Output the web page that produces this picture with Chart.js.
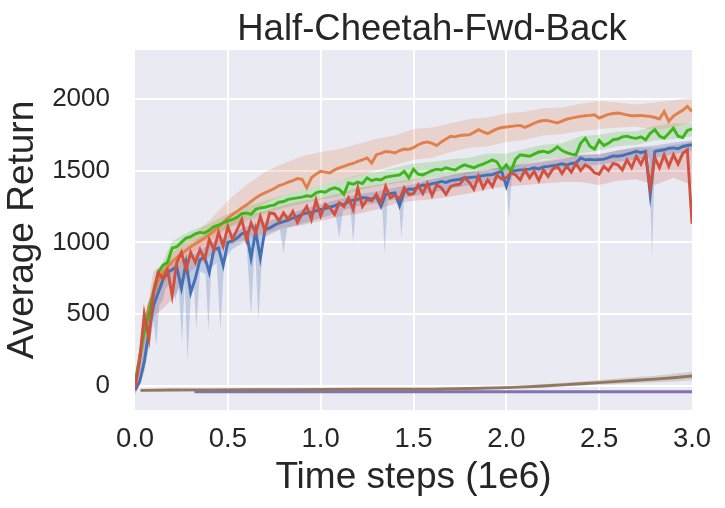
<!DOCTYPE html>
<html>
<head>
<meta charset="utf-8">
<script src="https://cdn.jsdelivr.net/npm/chart.js@4.4.0/dist/chart.umd.min.js"></script>
<style>
  html, body { margin: 0; padding: 0; background: #fff; }
  #chart { display: block; }
</style>
</head>
<body>
<canvas id="chart" width="725" height="508"></canvas>
<script>
// curves are logged every 0.025 (x 1e6 steps), bands every 0.1
const STEP = 0.025;
const BAND_STEP = 0.1;

const TITLE = "Half-Cheetah-Fwd-Back";
const xTicks = [0, 0.5, 1.0, 1.5, 2.0, 2.5, 3.0];
const yTicks = [0, 500, 1000, 1500, 2000];

const blueRet = [
  -30, 30, 170, 380, 560, 650, 740, 790, 810, 830,
  680, 860, 650, 750, 880, 900, 790, 950, 960, 840,
  1000, 1010, 1030, 1060, 1070, 890, 1080, 890, 1090, 1100,
  1120, 1135, 1145, 1155, 1170, 1180, 1195, 1205, 1210, 1220,
  1230, 1235, 1245, 1255, 1270, 1262, 1285, 1295, 1300, 1312,
  1310, 1300, 1320, 1250, 1335, 1340, 1345, 1255, 1355, 1372,
  1370, 1385, 1400, 1398, 1410, 1415, 1425, 1418, 1430, 1435,
  1440, 1450, 1452, 1455, 1458, 1465, 1470, 1472, 1485, 1495,
  1390, 1495, 1500, 1505, 1507, 1510, 1520, 1512, 1526, 1530,
  1535, 1540, 1548, 1538, 1550, 1553, 1588, 1575, 1578, 1575,
  1577, 1580, 1590, 1602, 1600, 1605, 1615, 1623, 1635, 1625,
  1634, 1333, 1634, 1640, 1645, 1655, 1658, 1652, 1668, 1675,
  1680
];

const orangeRet = [
  0, 200, 400, 560, 650, 730, 790, 830, 865, 895,
  920, 945, 970, 990, 1010, 1030, 1055, 1080, 1110, 1140,
  1170, 1195, 1215, 1240, 1260, 1285, 1310, 1330, 1345, 1360,
  1375, 1395, 1405, 1420, 1430, 1445, 1440, 1380, 1450, 1475,
  1495, 1490, 1484, 1505, 1519, 1530, 1542, 1550, 1565, 1575,
  1588, 1553, 1611, 1620, 1634, 1630, 1623, 1640, 1650, 1648,
  1660, 1680, 1693, 1700, 1690, 1674, 1700, 1720, 1739, 1735,
  1745, 1748, 1750, 1765, 1785, 1770, 1757, 1775, 1790, 1800,
  1804, 1808, 1812, 1815, 1801, 1815, 1830, 1842, 1850, 1848,
  1840, 1832, 1845, 1858, 1865, 1873, 1878, 1882, 1885, 1889,
  1866, 1880, 1892, 1898, 1901, 1895, 1888, 1882, 1882, 1885,
  1880, 1878, 1870, 1860, 1912, 1843, 1880, 1901, 1920, 1947,
  1912
];

const greenRet = [
  20, 200, 380, 500, 660, 790, 840, 860, 960, 970,
  1000, 1030, 1040, 1060, 1070, 1065, 1085, 1110, 1120, 1135,
  1150, 1160, 1175, 1200, 1205, 1195, 1230, 1240, 1245, 1255,
  1260, 1280, 1285, 1300, 1305, 1310, 1315, 1325, 1320, 1345,
  1355, 1350, 1370, 1380, 1370, 1335, 1415, 1405, 1420, 1410,
  1450, 1430, 1440, 1435, 1455, 1460, 1465, 1470, 1495, 1450,
  1510, 1475, 1470, 1485, 1500, 1510, 1505, 1520, 1510, 1505,
  1525, 1540, 1530, 1520, 1535, 1545, 1560, 1575, 1560, 1505,
  1540, 1495, 1580, 1610, 1605, 1600, 1615, 1630, 1635, 1625,
  1640, 1665, 1640, 1625, 1615, 1610, 1690, 1725, 1670, 1650,
  1710, 1675, 1690, 1715, 1720, 1735, 1740, 1730, 1725, 1735,
  1715, 1760, 1785, 1740, 1725, 1760, 1795, 1740, 1730, 1780,
  1790
];

const redRet = [
  -20, 180, 500, 330, 650, 790, 750, 810, 630, 860,
  930, 810, 930, 860, 950, 880, 1020, 950, 1070, 975,
  1110, 1020, 1090, 1160, 1020, 1135, 1065, 1180, 1080, 1205,
  1200, 1150, 1205, 1160, 1215, 1140, 1200, 1250, 1160, 1295,
  1185, 1265, 1240, 1195, 1275, 1250, 1310, 1230, 1380, 1250,
  1300, 1290, 1335, 1275, 1390, 1310, 1330, 1300, 1380, 1335,
  1340, 1400, 1340, 1410, 1325, 1400, 1380, 1335, 1390, 1400,
  1405, 1450, 1420, 1370, 1460, 1380, 1435, 1390, 1470, 1440,
  1450, 1485, 1470, 1435, 1505, 1450, 1495, 1430, 1505, 1460,
  1510, 1530, 1480, 1530, 1490, 1550, 1500, 1540, 1520, 1485,
  1475, 1530, 1500, 1550, 1540, 1505, 1575, 1520, 1600, 1545,
  1610, 1380, 1590, 1520, 1610, 1530, 1610, 1545, 1620, 1645,
  1130
];

// spread bands, one value per 0.1
const orangeLo = [-20, 580, 800, 920, 1000, 1100, 1180, 1270, 1330, 1370, 1400, 1430, 1460, 1500, 1540, 1575,
  1590, 1630, 1660, 1670, 1700, 1715, 1745, 1755, 1775, 1790, 1800, 1805, 1785, 1800, 1840];
const orangeHi = [20, 720, 930, 1040, 1150, 1290, 1400, 1490, 1550, 1600, 1630, 1650, 1685, 1720, 1745, 1790,
  1800, 1830, 1860, 1870, 1900, 1910, 1935, 1940, 1965, 1985, 1975, 1960, 1975, 1990, 2010];
const greenLo = [-10, 600, 900, 1000, 1040, 1100, 1150, 1200, 1240, 1270, 1300, 1320, 1360, 1390, 1410, 1430,
  1450, 1460, 1480, 1510, 1500, 1550, 1580, 1590, 1620, 1640, 1670, 1680, 1710, 1720, 1740];
const greenHi = [50, 720, 1010, 1080, 1130, 1200, 1250, 1290, 1330, 1370, 1400, 1430, 1470, 1490, 1520, 1550,
  1560, 1580, 1590, 1620, 1620, 1650, 1680, 1690, 1740, 1750, 1770, 1775, 1810, 1830, 1830];
const redLo = [-50, 480, 600, 800, 900, 980, 1020, 1060, 1100, 1120, 1150, 1180, 1200, 1230, 1270, 1290,
  1300, 1320, 1340, 1370, 1390, 1400, 1410, 1420, 1420, 1400, 1430, 1440, 1400, 1450, 1400];
const redHi = [30, 800, 900, 1000, 1070, 1140, 1190, 1220, 1260, 1290, 1310, 1340, 1380, 1400, 1420, 1440,
  1440, 1470, 1490, 1510, 1530, 1550, 1570, 1590, 1610, 1610, 1640, 1660, 1660, 1680, 1700];
const blueHi = [0, 640, 850, 900, 990, 1050, 1110, 1140, 1180, 1230, 1265, 1300, 1335, 1355, 1380, 1405,
  1445, 1465, 1490, 1505, 1530, 1545, 1560, 1580, 1610, 1615, 1640, 1665, 1675, 1695, 1710];

// blue lower band has narrow downward spikes, so it keeps its own x positions
const blueLoT = [0, 0.05, 0.1, 0.115, 0.13, 0.15, 0.165, 0.2, 0.217, 0.235, 0.253, 0.268, 0.283, 0.3, 0.315,
  0.33, 0.35, 0.38, 0.396, 0.41, 0.44, 0.46, 0.48, 0.52, 0.6, 0.625, 0.645, 0.665, 0.69, 0.78, 0.8, 0.82,
  1.08, 1.1, 1.12, 1.16, 1.175, 1.19, 1.33, 1.345, 1.36, 1.42, 1.435, 1.45, 2.0, 2.014, 2.03, 2.77, 2.785,
  2.8, 3.0];
const blueLo = [-60, 100, 450, 278, 560, 600, 680, 720, 590, 700, 300, 720, 174, 620, 760,
  390, 800, 780, 380, 820, 860, 390, 860, 950, 1010, 490, 1000, 460, 1030, 1090, 930, 1100,
  1200, 1030, 1220, 1240, 1000, 1250, 1280, 920, 1290, 1300, 1030, 1310, 1450, 1160, 1460, 1590, 890,
  1590, 1640];

const brownT = [0.03, 0.2, 0.4, 0.6, 0.8, 1.0, 1.2, 1.4, 1.6, 1.8, 2.0, 2.1, 2.2, 2.3, 2.4, 2.5, 2.6, 2.7, 2.8, 2.9, 3.0];
const brownRet = [-30, -28, -27, -26, -25, -24, -23, -22, -22, -17, -11, -6, 0, 8, 16, 24, 32, 40, 48, 58, 70];
const brownLo = [-38, -35, -34, -33, -32, -31, -30, -30, -30, -26, -20, -16, -11, -4, 2, 8, 14, 20, 26, 32, 40];
const brownHi = [-22, -21, -20, -19, -18, -17, -16, -15, -14, -8, -2, 4, 12, 22, 32, 42, 52, 62, 72, 86, 100];

const purpleT = [0.32, 1.0, 2.0, 3.0];
const purpleRet = [-40, -40, -40, -40];

const COLORS = {
  blue: "#4470B5",
  orange: "#E1804B",
  green: "#3DB61B",
  red: "#D2503E",
  brown: "#937860",
  purple: "#8172B3",
};

function gridX(n, step) {
  const out = [];
  for (let i = 0; i < n; i++) out.push(+(i * step).toFixed(3));
  return out;
}

function pts(xs, ys) {
  return ys.map((y, i) => ({ x: xs[i], y }));
}

function alpha(hex, a) {
  const n = parseInt(hex.slice(1), 16);
  return `rgba(${(n >> 16) & 255},${(n >> 8) & 255},${n & 255},${a})`;
}

const curveX = gridX(redRet.length, STEP);
const bandX = gridX(redLo.length, BAND_STEP);

function lineSet(data, color, order) {
  return {
    data, order,
    borderColor: color,
    borderWidth: 2.9,
    pointRadius: 0,
    fill: false,
    tension: 0,
  };
}

// lower edge filled up to the next dataset (the upper edge)
function bandSets(lo, hi, color, a) {
  const edge = { borderColor: "rgba(0,0,0,0)", borderWidth: 0, pointRadius: 0, tension: 0, order: 20 };
  return [
    { ...edge, data: lo, fill: "+1", backgroundColor: alpha(color, a) },
    { ...edge, data: hi, fill: false },
  ];
}

const datasets = [
  ...bandSets(pts(bandX, orangeLo), pts(bandX, orangeHi), COLORS.orange, 0.22),
  ...bandSets(pts(blueLoT, blueLo), pts(bandX, blueHi), COLORS.blue, 0.25),
  ...bandSets(pts(bandX, greenLo), pts(bandX, greenHi), COLORS.green, 0.2),
  ...bandSets(pts(bandX, redLo), pts(bandX, redHi), COLORS.red, 0.22),
  ...bandSets(pts(brownT, brownLo), pts(brownT, brownHi), COLORS.brown, 0.25),
  lineSet(pts(purpleT, purpleRet), COLORS.purple, 6),
  lineSet(pts(brownT, brownRet), COLORS.brown, 5),
  lineSet(pts(curveX, blueRet), COLORS.blue, 4),
  lineSet(pts(curveX, orangeRet), COLORS.orange, 3),
  lineSet(pts(curveX, greenRet), COLORS.green, 2),
  lineSet(pts(curveX, redRet), COLORS.red, 1),
];

const FONT = "'Liberation Sans', Arial, sans-serif";
const TEXT = "#262626";

const plotBg = {
  id: "plotBg",
  beforeDraw(chart) {
    const { ctx, chartArea: a } = chart;
    ctx.save();
    ctx.fillStyle = "#EAEAF2";
    ctx.fillRect(a.left, a.top, a.right - a.left, a.bottom - a.top);
    ctx.restore();
  },
  // title sits a bit right of the plot centre in the original figure
  afterDraw(chart) {
    const { ctx } = chart;
    ctx.save();
    ctx.font = `36.5px ${FONT}`;
    ctx.fillStyle = TEXT;
    ctx.textAlign = "center";
    ctx.textBaseline = "alphabetic";
    ctx.fillText(TITLE, 432, 40);
    ctx.restore();
  },
};

new Chart(document.getElementById("chart"), {
  type: "line",
  data: { datasets },
  plugins: [plotBg],
  options: {
    responsive: false,
    animation: false,
    devicePixelRatio: 1,
    layout: { padding: { left: 0, right: 33, top: 50, bottom: 0 } },
    plugins: {
      legend: { display: false },
      tooltip: { enabled: false },
      title: { display: false },
    },
    scales: {
      x: {
        type: "linear",
        min: 0,
        max: 3,
        afterBuildTicks: (s) => { s.ticks = xTicks.map(v => ({ value: v })); },
        afterFit: (s) => { s.height = 98; },
        border: { display: false },
        grid: {
          color: (c) => (c.tick && (c.tick.value === 0 || c.tick.value === 3)) ? "rgba(0,0,0,0)" : "#ffffff",
          lineWidth: 2,
          drawTicks: false,
        },
        ticks: {
          color: TEXT,
          font: { family: FONT, size: 27.5 },
          padding: 13,
          maxRotation: 0,
          autoSkip: false,
          callback: (v) => Number(v).toFixed(1),
        },
        title: {
          display: true,
          text: "Time steps (1e6)",
          color: TEXT,
          font: { family: FONT, size: 37, lineHeight: 1.2 },
          padding: { top: 0, bottom: 8 },
        },
      },
      y: {
        min: -167,
        max: 2340,
        afterBuildTicks: (s) => { s.ticks = yTicks.map(v => ({ value: v })); },
        afterFit: (s) => { s.width = 135; },
        border: { display: false },
        grid: { color: "#ffffff", lineWidth: 2, drawTicks: false },
        ticks: {
          color: TEXT,
          font: { family: FONT, size: 26 },
          padding: 25,
          callback: (v) => String(v),
        },
        title: {
          display: true,
          text: "Average Return",
          color: TEXT,
          font: { family: FONT, size: 37, lineHeight: 1.2 },
          padding: { top: 1, bottom: 0 },
        },
      },
    },
  },
});
</script>
</body>
</html>
